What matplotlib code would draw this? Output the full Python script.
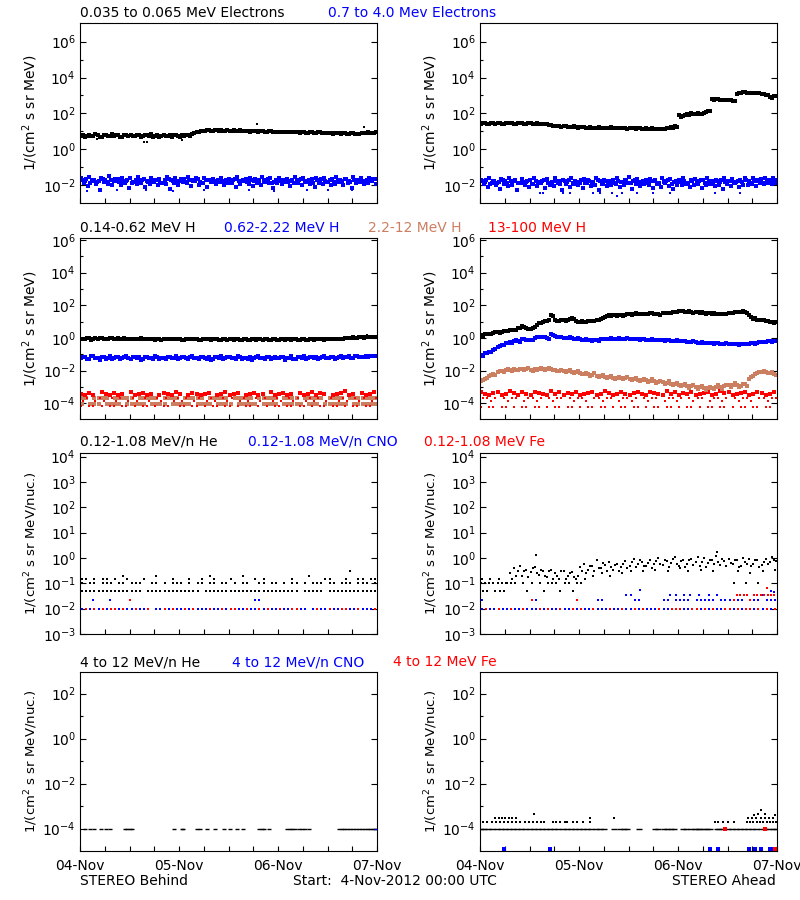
import numpy as np
import matplotlib
matplotlib.use("Agg")
import matplotlib.pyplot as plt
from matplotlib.ticker import FixedLocator, FuncFormatter, NullFormatter

n = np.nan
BLACK, BLUE, BROWN, RED = '#000000', '#0000ff', '#cc7f60', '#ff0000'

# ---------------- x axis (hours since 04-Nov-2012 00:00) ----------------
day_ticks = [0, 24, 48, 72]
day_labels = ['04-Nov', '05-Nov', '06-Nov', '07-Nov']
six_hour_ticks = [6, 12, 18, 30, 36, 42, 54, 60, 66]

# ---------------- Row 1 : electrons (hourly samples) ----------------
beh_e_lo_a = [5.8, 5.0, 6.4, 5.5, 6.1, 4.9, 6.6, 5.7, 5.3, 6.2, 5.1, 6.5,
              5.9, 5.2, 6.3, 5.4, 6.0, 6.7, 5.6, 4.8, 6.2, 5.5, 5.0, 6.1,
              5.0, 5.7, 6.5, 7.3, 8.6, 9.8, 10.8, 11.6, 10.2, 11.2, 11.9, 10.5,
              10.0, 11.3, 10.4, 11.0, 10.1, 9.7, 10.6, 9.5, 10.2, 9.3, 9.9, 9.0,
              9.6, 8.8, 9.4, 8.6, 9.2, 8.3, 9.0, 8.1, 8.8, 7.9, 8.6, 7.8,
              8.4, 7.5, 8.2, 7.3, 8.0, 7.1, 7.8, 6.9, 7.6, 7.9, 8.4, 8.1]
beh_e_lo_b = [6.5, 5.6, 5.2, 6.8, 5.0, 6.0, 5.4, 6.9, 6.1, 4.7, 6.3, 5.6,
              5.3, 6.6, 4.9, 6.2, 5.5, 5.1, 6.4, 5.8, 5.2, 6.5, 5.9, 5.3,
              6.0, 6.3, 5.8, 7.8, 9.2, 10.3, 11.4, 10.6, 11.8, 10.7, 10.9, 11.5,
              10.8, 10.3, 11.2, 9.9, 10.7, 10.3, 9.8, 10.5, 9.6, 10.0, 9.4, 9.7,
              9.1, 9.5, 8.9, 9.3, 8.7, 9.1, 8.5, 8.9, 8.3, 8.6, 8.1, 8.4,
              7.9, 8.3, 7.7, 8.1, 7.4, 7.8, 7.2, 7.5, 8.2, 8.6, 7.8, 8.8]
beh_e_lo_out_h = [4.2, 15.4, 16.2, 24.7, 42.9, 68.8]
beh_e_lo_out_v = [3.5, 2.5, 2.4, 3.3, 24.0, 17.0]

beh_e_hi_a_log = [-1.62, -1.78, -1.55, -1.70, -1.84, -1.60, -1.72, -1.52, -1.80, -1.66, -1.58, -1.75,
                  -1.63, -1.82, -1.54, -1.69, -1.77, -1.59, -1.71, -1.65, -1.86, -1.57, -1.73, -1.61,
                  -1.79, -1.68, -1.55, -1.74, -1.62, -1.81, -1.58, -1.70, -1.66, -1.76, -1.60, -1.83,
                  -1.64, -1.72, -1.56, -1.78, -1.67, -1.61, -1.80, -1.69, -1.57, -1.74, -1.63, -1.85,
                  -1.59, -1.71, -1.66, -1.77, -1.54, -1.70, -1.62, -1.79, -1.65, -1.58, -1.75, -1.60,
                  -1.82, -1.67, -1.53, -1.73, -1.64, -1.78, -1.57, -1.69, -1.61, -1.76, -1.58, -1.66]
beh_e_hi_b_log = [-1.88, -2.05, -1.80, -1.95, -2.25, -1.85, -1.92, -2.02, -1.78, -1.98, -1.90, -2.15,
                  -1.83, -1.96, -1.87, -2.08, -1.93, -1.81, -2.00, -1.89, -1.94, -2.20, -1.86, -1.99,
                  -1.84, -1.91, -2.03, -1.79, -1.97, -1.88, -2.10, -1.85, -1.93, -1.82, -2.01, -1.90,
                  -1.87, -2.12, -1.95, -1.80, -1.92, -2.06, -1.86, -1.98, -1.83, -1.91, -2.18, -1.89,
                  -1.96, -1.84, -2.04, -1.90, -1.87, -1.99, -1.81, -1.94, -2.09, -1.88, -1.93, -1.85,
                  -2.00, -1.92, -1.83, -1.97, -1.86, -2.14, -1.90, -1.82, -1.95, -1.87, -1.80, -1.93]
beh_e_hi_c_log = [-1.74, -1.66, -1.88, -1.71, -1.79, -1.68, -1.85, -1.73, -1.64, -1.81, -1.76, -1.69,
                  -1.90, -1.72, -1.78, -1.67, -1.83, -1.75, -1.70, -1.86, -1.73, -1.65, -1.80, -1.77,
                  -1.68, -1.84, -1.72, -1.79, -1.66, -1.87, -1.74, -1.70, -1.82, -1.69, -1.77, -1.73,
                  -1.85, -1.67, -1.76, -1.71, -1.83, -1.74, -1.68, -1.80, -1.75, -1.66, -1.88, -1.72,
                  -1.78, -1.69, -1.84, -1.73, -1.76, -1.67, -1.81, -1.70, -1.86, -1.74, -1.68, -1.79,
                  -1.72, -1.85, -1.70, -1.77, -1.66, -1.82, -1.73, -1.69, -1.80, -1.71, -1.75, -1.68]
beh_e_hi_out_h = [1.8, 9.0, 16.0, 22.5, 30.0, 41.0, 47.0, 55.0, 60.0, 66.0]
beh_e_hi_out_log = [-2.35, -2.30, -2.28, -2.32, -2.30, -2.27, -2.33, -2.30, -2.25, -2.30]

ahd_e_lo_a = [26, 28, 27, 29, 28, 27, 29, 28, 27, 28, 29, 27,
              28, 26, 27, 25, 24, 22, 20, 19, 18.5, 18, 17.5, 17,
              16.5, 16.5, 16, 15.5, 15.8, 15.2, 16, 15.5, 15.5, 15.8, 15, 15.5,
              14.8, 15.2, 14.5, 14.2, 14.6, 13.8, 14, 13.2, 14.2, 15, 17, 20,
              85, 70, 90, 100, 95, 92, 110, 140, 600, 610, 590, 560,
              540, 510, 1250, 1450, 1480, 1420, 1380, 1300, 1200, 1050, 800, 900]
ahd_e_lo_b = [28, 26, 29, 27, 30, 26, 28, 30, 26, 29, 27, 28,
              26, 28, 25, 26, 23, 21, 20.5, 18, 19.5, 17, 18.5, 16,
              17.5, 15.5, 16.8, 14.8, 16.5, 14.5, 15.2, 16.3, 14.6, 15, 16, 14.2,
              15.6, 14.2, 15.3, 13.5, 13.9, 14.6, 13.2, 14.3, 13.6, 14.5, 16, 18,
              65, 80, 78, 88, 105, 98, 118, 130, 590, 630, 575, 545,
              525, 495, 1350, 1500, 1430, 1450, 1350, 1320, 1150, 1000, 760, 950]

ahd_e_hi_a_log = [-1.70, -1.85, -1.62, -1.78, -1.90, -1.66, -1.80, -1.58, -1.75, -1.88, -1.64, -1.82,
                  -1.72, -1.60, -1.86, -1.76, -1.68, -1.92, -1.63, -1.79, -1.71, -1.84, -1.59, -1.77,
                  -1.87, -1.65, -1.73, -1.81, -1.61, -1.78, -1.69, -1.89, -1.74, -1.62, -1.83, -1.70,
                  -1.57, -1.80, -1.67, -1.85, -1.72, -1.64, -1.79, -1.88, -1.60, -1.76, -1.68, -1.82,
                  -1.73, -1.58, -1.86, -1.71, -1.65, -1.80, -1.74, -1.62, -1.77, -1.69, -1.84, -1.60,
                  -1.75, -1.66, -1.81, -1.70, -1.63, -1.78, -1.59, -1.73, -1.67, -1.62, -1.70, -1.58]
ahd_e_hi_b_log = [-1.95, -2.10, -1.88, -2.02, -2.22, -1.92, -2.05, -1.97, -2.30, -1.90, -2.00, -2.12,
                  -1.94, -2.06, -1.89, -2.18, -1.98, -2.03, -1.91, -2.25, -1.96, -2.08, -1.93, -2.01,
                  -2.15, -1.90, -2.04, -1.97, -2.28, -1.92, -2.07, -1.99, -1.94, -2.11, -2.02, -1.91,
                  -2.20, -1.96, -2.05, -1.93, -2.00, -2.14, -1.95, -2.08, -1.90, -2.03, -2.24, -1.97,
                  -2.01, -1.92, -2.09, -1.98, -1.94, -2.16, -2.02, -1.93, -2.06, -1.99, -2.22, -1.95,
                  -2.04, -1.91, -2.10, -1.97, -2.00, -1.93, -2.07, -1.90, -1.96, -1.88, -1.94, -1.90]
ahd_e_hi_c_log = [-1.80, -1.72, -1.93, -1.77, -1.85, -1.74, -1.90, -1.79, -1.70, -1.87, -1.82, -1.75,
                  -1.95, -1.78, -1.84, -1.73, -1.89, -1.81, -1.76, -1.92, -1.79, -1.71, -1.86, -1.83,
                  -1.74, -1.90, -1.78, -1.85, -1.72, -1.93, -1.80, -1.76, -1.88, -1.75, -1.83, -1.79,
                  -1.91, -1.73, -1.82, -1.77, -1.89, -1.80, -1.74, -1.86, -1.81, -1.72, -1.94, -1.78,
                  -1.84, -1.75, -1.90, -1.79, -1.82, -1.73, -1.87, -1.76, -1.92, -1.80, -1.74, -1.85,
                  -1.78, -1.91, -1.76, -1.83, -1.72, -1.88, -1.79, -1.75, -1.86, -1.77, -1.81, -1.74]
ahd_e_hi_out_h = [14.5, 15.3, 20.0, 21.8, 27.5, 29.0, 32.0, 33.2, 34.5, 38.0, 42.0, 46.0, 57.0, 63.0]
ahd_e_hi_out_log = [-2.47, -2.47, -2.47, -2.42, -2.47, -2.42, -2.47, -2.60, -2.47, -2.47, -2.42, -2.47, -2.42, -2.42]

# ---------------- Row 2 : protons ----------------
beh_p1_a = [0.92, 0.85, 0.95, 0.88, 0.90, 0.97, 0.86, 0.93, 0.89, 0.96, 0.87, 0.91,
            0.84, 0.90, 0.86, 0.82, 0.88, 0.85, 0.80, 0.87, 0.83, 0.89, 0.81, 0.86,
            0.84, 0.79, 0.85, 0.82, 0.88, 0.80, 0.84, 0.86, 0.81, 0.83, 0.78, 0.85,
            0.82, 0.80, 0.86, 0.79, 0.83, 0.77, 0.81, 0.84, 0.78, 0.82, 0.80, 0.85,
            0.79, 0.83, 0.81, 0.78, 0.84, 0.80, 0.82, 0.79, 0.83, 0.81, 0.85, 0.80,
            0.86, 0.83, 0.88, 0.92, 0.96, 1.02, 1.08, 1.05, 1.12, 1.10, 1.15, 1.18]
beh_p1_b = [0.82, 0.95, 0.80, 0.93, 0.97, 0.84, 0.92, 0.99, 0.85, 0.90, 0.94, 0.83,
            0.92, 0.87, 0.93, 0.89, 0.81, 0.92, 0.86, 0.78, 0.90, 0.82, 0.87, 0.83,
            0.79, 0.88, 0.81, 0.86, 0.78, 0.85, 0.89, 0.79, 0.84, 0.80, 0.86, 0.78,
            0.84, 0.87, 0.79, 0.85, 0.80, 0.83, 0.78, 0.82, 0.86, 0.79, 0.84, 0.80,
            0.83, 0.78, 0.85, 0.82, 0.79, 0.84, 0.80, 0.85, 0.78, 0.83, 0.81, 0.87,
            0.82, 0.85, 0.90, 0.88, 0.98, 0.95, 1.05, 1.12, 1.06, 1.20, 1.14, 1.12]
beh_p1_out_h = [69.5]
beh_p1_out_v = [1.5]

beh_p2_a_log = [-1.25, -1.15, -1.30, -1.12, -1.22, -1.18, -1.28, -1.10, -1.24, -1.16, -1.21, -1.13,
                -1.27, -1.19, -1.14, -1.26, -1.17, -1.23, -1.11, -1.29, -1.20, -1.15, -1.25, -1.13,
                -1.22, -1.18, -1.30, -1.12, -1.24, -1.16, -1.21, -1.14, -1.27, -1.19, -1.11, -1.25,
                -1.17, -1.23, -1.13, -1.28, -1.20, -1.15, -1.24, -1.12, -1.22, -1.18, -1.29, -1.14,
                -1.23, -1.16, -1.20, -1.13, -1.26, -1.17, -1.11, -1.24, -1.19, -1.14, -1.22, -1.10,
                -1.25, -1.16, -1.20, -1.12, -1.18, -1.09, -1.21, -1.11, -1.15, -1.08, -1.13, -1.10]
beh_p2_b_log = [-1.18, -1.27, -1.13, -1.24, -1.33, -1.15, -1.21, -1.26, -1.14, -1.30, -1.19, -1.25,
                -1.16, -1.23, -1.35, -1.17, -1.22, -1.28, -1.15, -1.24, -1.31, -1.18, -1.21, -1.27,
                -1.14, -1.25, -1.19, -1.23, -1.29, -1.16, -1.26, -1.34, -1.18, -1.22, -1.27, -1.15,
                -1.24, -1.30, -1.19, -1.21, -1.26, -1.32, -1.17, -1.23, -1.28, -1.16, -1.21, -1.25,
                -1.19, -1.33, -1.22, -1.27, -1.15, -1.24, -1.29, -1.18, -1.23, -1.26, -1.16, -1.22,
                -1.19, -1.27, -1.14, -1.21, -1.17, -1.24, -1.12, -1.19, -1.14, -1.16, -1.11, -1.13]

beh_p3_a_log = [-3.69, -3.69, n, -3.69, -3.69, -3.69, -3.69, n, -3.69, -3.69,
                -3.69, -3.69, -3.69, n, -3.69, -3.69, -3.69, -3.69, -3.69, n,
                -3.69, -3.69, -3.69, -3.69, n, -3.69, -3.69, -3.69, -3.69, -3.69,
                n, -3.69, -3.69, -3.69, -3.69, -3.69, n, -3.69, -3.69, -3.69,
                -3.69, -3.69, n, -3.69, -3.69, -3.69, -3.69, -3.69, n, -3.69,
                -3.69, -3.69, -3.69, n, -3.69, -3.69, -3.69, -3.69, -3.69, n,
                -3.69, -3.69, -3.69, -3.69, n, -3.69, -3.69, -3.69, -3.69, -3.69,
                -3.69, -3.69]
beh_p3_b_log = [-4.02, n, -4.02, -4.02, -4.02, n, -4.02, -4.02, -4.02, -4.02,
                n, -4.02, -4.02, -4.02, -4.02, -4.02, n, -4.02, -4.02, -4.02,
                -4.02, n, -4.02, -4.02, -4.02, -4.02, -4.02, n, -4.02, -4.02,
                -4.02, -4.02, n, -4.02, -4.02, -4.02, -4.02, n, -4.02, -4.02,
                -4.02, -4.02, -4.02, n, -4.02, -4.02, -4.02, -4.02, n, -4.02,
                -4.02, -4.02, -4.02, -4.02, n, -4.02, -4.02, -4.02, n, -4.02,
                -4.02, -4.02, -4.02, -4.02, -4.02, n, -4.02, -4.02, -4.02, -4.02,
                -4.02, -4.02]

beh_p4_a_log = [-3.40, -3.49, -3.38, -3.49, n, -3.30, -3.40, -3.49, -3.38, -3.49,
                -3.40, n, -3.30, -3.49, -3.40, -3.38, -3.49, -3.40, n, -3.49,
                -3.38, -3.40, -3.49, -3.30, -3.40, n, -3.49, -3.38, -3.40, -3.49,
                -3.40, -3.38, n, -3.49, -3.40, -3.30, -3.49, -3.40, -3.38, n,
                -3.49, -3.40, -3.38, -3.49, -3.40, n, -3.30, -3.49, -3.40, -3.38,
                -3.49, -3.40, n, -3.38, -3.49, -3.40, -3.30, -3.49, -3.38, -3.40,
                n, -3.49, -3.40, -3.38, -3.25, -3.49, -3.40, n, -3.38, -3.49,
                -3.40, -3.30]
beh_p4_b_log = [-3.86, -3.69, n, -3.86, -3.69, -3.86, n, -3.69, -3.86, -3.69,
                n, -3.86, -3.69, -3.86, n, -3.69, -3.86, n, -3.69, -3.86,
                -3.69, n, -3.86, -3.69, -3.86, -3.69, n, -3.86, -3.69, n,
                -3.86, -3.69, -3.86, n, -3.69, -3.86, -3.69, n, -3.86, -3.69,
                -3.86, n, -3.69, -3.86, -3.69, n, -3.86, -3.69, -3.86, n,
                -3.69, -3.86, -3.69, n, -3.86, -3.69, -3.86, -3.69, n, -3.86,
                -3.69, n, -3.86, -3.69, -3.86, n, -3.69, -3.86, -3.69, n,
                -3.86, -3.69]
beh_p4_c_log = [-4.14, n, -4.14, -4.14, n, -4.14, n, -4.14, -4.14, n,
                -4.14, -4.14, n, -4.14, n, -4.14, -4.14, n, -4.14, n,
                -4.14, -4.14, n, n, -4.14, -4.14, n, -4.14, -4.14, n,
                -4.14, n, -4.14, -4.14, n, -4.14, -4.14, n, -4.14, n,
                -4.14, -4.14, n, -4.14, n, -4.14, n, -4.14, -4.14, n,
                -4.14, -4.14, n, -4.14, -4.14, n, -4.14, n, -4.14, -4.14,
                n, -4.14, -4.14, n, -4.14, n, -4.14, -4.14, n, -4.14,
                -4.14, n]

ahd_p1_a = [1.6, 1.7, 1.8, 2.0, 2.2, 2.4, 2.6, 2.9, 3.3, 3.9, 5.5, 4.2,
            3.6, 5.0, 8.5, 9.5, 11, 26, 12, 11.5, 12, 13, 17, 11,
            9.5, 10, 10.5, 11, 12, 15, 19, 24, 25, 23, 25, 27,
            29, 31, 30, 28, 30, 32, 29, 28, 33, 35, 36, 37,
            42, 45, 40, 38, 39, 35, 33, 34, 31, 30, 29, 31,
            32, 35, 38, 40, 38, 25, 15, 13, 12, 11, 10, 8.5]
ahd_p1_b = [1.4, 1.8, 1.7, 2.2, 2.0, 2.6, 2.5, 3.1, 3.0, 4.3, 4.8, 3.8,
            4.0, 6.2, 7.8, 10.5, 12, 22, 11, 12.5, 11, 14.5, 15, 10,
            10.5, 9.2, 11.5, 10.2, 13, 16.5, 21, 22, 27, 25, 23, 28,
            27, 33, 28, 30, 28, 34, 31, 27, 35, 33, 38, 40,
            44, 41, 43, 36, 41, 37, 31, 36, 33, 28, 31, 29,
            34, 37, 40, 42, 36, 20, 16, 12.5, 12.8, 10.5, 9.5, 9.0]

ahd_p2_a_log = [-1.02, -0.95, -0.85, -0.75, -0.55, -0.42, -0.33, -0.25, -0.20, -0.18, -0.05, -0.10,
                -0.15, 0.02, 0.08, 0.05, 0.00, 0.22, 0.12, 0.05, 0.02, 0.00, -0.03, -0.05,
                -0.08, -0.10, -0.12, -0.18, -0.15, -0.08, -0.06, -0.05, -0.04, -0.04, -0.05, -0.06,
                -0.06, -0.07, -0.08, -0.08, -0.10, -0.10, -0.11, -0.12, -0.13, -0.15, -0.16, -0.17,
                -0.18, -0.20, -0.22, -0.24, -0.26, -0.28, -0.30, -0.31, -0.32, -0.33, -0.34, -0.35,
                -0.36, -0.37, -0.37, -0.38, -0.37, -0.36, -0.32, -0.28, -0.25, -0.22, -0.20, -0.20]
ahd_p2_b_log = [-1.08, -0.90, -0.88, -0.68, -0.50, -0.45, -0.28, -0.28, -0.15, -0.22, -0.08, -0.14,
                -0.10, 0.05, 0.03, 0.09, -0.04, 0.16, 0.08, 0.08, -0.02, 0.03, -0.07, -0.02,
                -0.12, -0.06, -0.15, -0.14, -0.19, -0.05, -0.09, -0.02, -0.07, -0.01, -0.08, -0.03,
                -0.09, -0.04, -0.11, -0.06, -0.13, -0.08, -0.14, -0.10, -0.16, -0.12, -0.19, -0.14,
                -0.21, -0.17, -0.25, -0.21, -0.29, -0.25, -0.33, -0.28, -0.35, -0.30, -0.37, -0.32,
                -0.39, -0.34, -0.40, -0.35, -0.39, -0.33, -0.35, -0.26, -0.27, -0.20, -0.22, -0.18]

ahd_p3_a_log = [-2.65, -2.50, -2.35, -2.20, -2.10, -2.00, -1.98, -1.95, -1.92, -1.95, -1.90, -1.92,
                -1.95, -1.90, -1.88, -1.90, -1.92, -1.88, -1.95, -2.00, -2.02, -2.05, -2.08, -2.10,
                -2.15, -2.20, -2.22, -2.25, -2.30, -2.35, -2.38, -2.40, -2.42, -2.45, -2.45, -2.48,
                -2.50, -2.52, -2.55, -2.58, -2.60, -2.62, -2.65, -2.70, -2.72, -2.75, -2.80, -2.82,
                -2.85, -2.90, -2.92, -2.95, -3.00, -3.02, -3.05, -3.08, -3.05, -3.00, -2.98, -2.95,
                -2.90, -2.85, -2.88, -2.92, -2.80, -2.50, -2.30, -2.15, -2.08, -2.10, -2.15, -2.20]
ahd_p3_b_log = [-2.58, -2.42, -2.28, -2.25, -2.02, -2.06, -1.92, -2.02, -1.98, -1.88, -1.97, -1.86,
                -2.02, -1.95, -1.82, -1.97, -1.86, -1.94, -2.03, -1.94, -2.09, -1.99, -2.15, -2.04,
                -2.22, -2.13, -2.30, -2.17, -2.38, -2.27, -2.46, -2.33, -2.50, -2.38, -2.53, -2.40,
                -2.58, -2.45, -2.63, -2.50, -2.70, -2.54, -2.75, -2.62, -2.82, -2.66, -2.90, -2.74,
                -2.95, -2.80, -3.05, -2.85, -3.12, -2.92, -3.18, -2.98, -3.15, -2.90, -3.10, -2.85,
                -3.02, -2.78, -2.98, -2.82, -2.95, -2.40, -2.22, -2.10, -2.02, -2.16, -2.08, -2.25]

ahd_p4_a_log = [-3.30, -3.40, -3.49, -3.38, -3.30, -3.49, -3.40, -3.25, -3.38, -3.49,
                -3.30, -3.40, -3.49, -3.30, -3.38, -3.40, -3.49, -3.25, -3.40, -3.30,
                -3.49, -3.38, -3.40, -3.30, -3.49, -3.40, -3.38, -3.30, -3.49, -3.40,
                -3.25, -3.38, -3.49, -3.40, -3.30, -3.40, -3.49, -3.38, -3.30, -3.40,
                -3.49, -3.30, -3.38, -3.40, -3.49, -3.25, -3.40, -3.30, -3.49, -3.38,
                -3.40, -3.30, -3.49, -3.40, -3.38, -3.30, -3.49, -3.40, -3.25, -3.38,
                -3.30, -3.49, -3.40, -3.38, -3.30, -3.49, -3.40, -3.30, -3.38, -3.49,
                -3.40, -3.30]
ahd_p4_b_log = [-3.69, -3.69, -3.86, -3.69, n, -3.69, -3.86, -3.69, -3.69, n,
                -3.86, -3.69, -3.69, -3.86, -3.69, n, -3.69, -3.86, -3.69, -3.69,
                n, -3.69, -3.86, -3.69, -3.69, -3.86, n, -3.69, -3.69, -3.86,
                -3.69, -3.69, n, -3.86, -3.69, -3.69, -3.86, -3.69, n, -3.69,
                -3.86, -3.69, -3.69, n, -3.86, -3.69, -3.69, -3.86, -3.69, n,
                -3.69, -3.86, -3.69, -3.69, n, -3.86, -3.69, -3.69, -3.86, -3.69,
                n, -3.69, -3.86, -3.69, -3.69, -3.86, n, -3.69, -3.69, -3.86,
                -3.69, -3.69]
ahd_p4_c_log = [-4.20, n, -4.20, -4.20, n, -4.20, -4.20, n, -4.20, n,
                -4.20, -4.20, n, -4.20, -4.20, n, -4.20, n, -4.20, -4.20,
                n, -4.20, -4.20, n, -4.20, n, -4.20, -4.20, n, -4.20,
                -4.20, n, -4.20, n, -4.20, -4.20, n, -4.20, -4.20, n,
                -4.20, n, -4.20, -4.20, n, -4.20, -4.20, n, -4.20, n,
                -4.20, -4.20, n, -4.20, n, -4.20, -4.20, n, -4.20, -4.20,
                n, -4.20, n, -4.20, -4.20, n, -4.20, -4.20, n, -4.20,
                -4.20, n]

# ---------------- Row 3 : 0.12-1.08 MeV/n heavy ions ----------------
beh_he_lo = [0.05, 0.05, 0.05, 0.05, 0.05, 0.05, 0.05, 0.05, 0.05, 0.05,
             0.05, 0.05, 0.05, 0.05, 0.05, n, 0.05, 0.05, 0.05, 0.05,
             0.05, 0.05, 0.05, 0.05, 0.05, 0.05, 0.05, 0.05, 0.05, n,
             0.05, 0.05, 0.05, 0.05, 0.05, 0.05, 0.05, 0.05, 0.05, 0.05,
             0.05, 0.05, 0.05, 0.05, 0.05, 0.05, 0.05, 0.05, 0.05, 0.05,
             0.05, 0.05, 0.05, n, 0.05, 0.05, 0.05, 0.05, 0.05, n,
             0.05, 0.05, 0.05, 0.05, 0.05, 0.05, 0.05, 0.05, 0.05, 0.05,
             0.05, 0.05]
beh_he_mid = [0.1, n, 0.1, 0.1, n, 0.1, 0.1, 0.1, n, 0.1,
              0.1, n, 0.1, 0.1, 0.1, n, n, 0.1, 0.1, n,
              0.1, n, 0.1, 0.1, 0.1, n, 0.1, n, 0.1, 0.1,
              n, 0.1, 0.1, n, 0.1, 0.1, n, 0.1, n, 0.1,
              0.1, n, n, 0.1, 0.1, n, 0.1, 0.1, n, 0.1,
              n, 0.1, 0.1, n, 0.1, n, 0.1, 0.1, 0.1, n,
              0.1, 0.1, n, 0.1, 0.1, 0.1, n, 0.1, 0.1, 0.1,
              n, 0.1]
beh_he_hi = [0.15, 0.15, n, 0.15, n, 0.15, 0.15, n, 0.15, n,
             0.2, 0.15, n, n, n, 0.15, n, n, 0.2, n,
             n, n, 0.15, n, n, n, 0.15, n, n, 0.15,
             n, 0.2, 0.15, n, n, n, 0.15, n, n, 0.2,
             n, n, 0.15, n, 0.15, n, n, n, n, n,
             n, 0.15, n, n, n, 0.2, n, n, n, 0.15,
             0.15, n, n, n, 0.15, 0.3, n, 0.15, 0.15, n,
             0.15, 0.15]
beh_cno_lo = [0.01, 0.01, 0.01, n, 0.01, n, 0.01, 0.01, n, 0.01,
              n, 0.01, 0.01, n, 0.01, 0.01, n, n, 0.01, 0.01,
              n, 0.01, n, 0.01, 0.01, n, 0.01, n, 0.01, 0.01,
              0.01, n, 0.01, 0.01, n, 0.01, n, n, 0.01, 0.01,
              n, 0.01, 0.01, n, 0.01, n, 0.01, 0.01, n, 0.01,
              0.01, n, n, 0.01, 0.01, n, 0.01, n, 0.01, 0.01,
              n, 0.01, 0.01, n, n, 0.01, 0.01, n, 0.01, 0.01,
              0.01, 0.01]
beh_fe_lo = [n, 0.01, n, 0.01, n, 0.01, n, 0.01, 0.01, n,
             0.01, n, n, 0.01, n, n, 0.01, n, n, n,
             0.01, n, 0.01, n, n, 0.01, n, 0.01, n, n,
             n, 0.01, n, n, 0.01, n, 0.01, 0.01, n, n,
             0.01, n, n, 0.01, n, 0.01, n, n, 0.01, n,
             n, 0.01, 0.01, n, n, n, n, 0.01, n, n,
             0.01, n, n, 0.01, 0.01, n, n, 0.01, n, n,
             n, 0.01]
beh_cno_extra_h = [3.2, 7.3, 42.4, 43.3]
beh_cno_extra_v = [0.021, 0.021, 0.021, 0.021]
beh_fe_extra_h = [12.1]
beh_fe_extra_v = [0.021]

ahd_he_a = [0.1, 0.1, 0.1, 0.1, 0.1, 0.1, 0.1, 0.25, 0.4, 0.3, 0.2, 0.35,
            0.28, 0.45, 0.22, 0.3, 0.18, 0.35, 0.25, 0.15, 0.3, 0.2, 0.28, 0.15,
            0.45, 0.6, 0.35, 0.5, 0.8, 0.4, 0.55, 0.7, 0.35, 0.6, 0.45, 0.75,
            0.5, 0.9, 0.6, 0.7, 0.5, 0.85, 0.6, 1.0, 0.55, 0.75, 0.65, 1.1,
            0.5, 0.8, 0.6, 0.9, 0.7, 0.5, 1.0, 0.65, 0.8, 1.2, 0.55, 0.75,
            0.9, 0.6, 0.85, 0.5, 0.7, 0.95, 0.6, 0.8, 0.55, 0.9, 0.7, 0.85]
ahd_he_b = [0.05, 0.05, n, 0.05, 0.05, 0.05, n, 0.15, 0.2, 0.5, 0.3, 0.18,
            0.4, 0.25, 0.35, 0.2, 0.3, 0.15, 0.2, 0.3, 0.15, 0.25, 0.18, 0.2,
            0.3, 0.25, 0.5, 0.3, 0.4, 0.65, 0.3, 0.45, 0.55, 0.3, 0.6, 0.4,
            0.7, 0.45, 0.8, 0.5, 0.65, 0.4, 0.75, 0.6, 0.85, 0.45, 0.95, 0.6,
            0.75, 0.45, 0.85, 0.55, 1.1, 0.7, 0.45, 0.8, 0.6, 0.7, 0.95, 0.5,
            0.65, 0.8, 0.45, 1.0, 0.6, 0.5, 0.8, 0.45, 0.7, 0.6, 1.05, 0.75]
ahd_he_c = [0.15, n, 0.15, n, 0.15, n, 0.1, 0.1, 0.1, n, 0.1, 0.05,
            0.1, 1.3, 0.1, 0.05, 0.1, 0.1, 0.1, 0.05, 0.1, 0.1, 0.05, 0.1,
            0.1, 0.15, n, 0.2, n, 0.25, n, 0.2, n, n, 0.25, n,
            0.3, n, n, 0.3, n, n, 0.35, n, n, 0.3, n, n,
            0.4, n, 0.3, n, n, 0.35, n, n, 0.3, 1.7, n, n,
            n, 0.1, 0.3, n, 0.1, 0.25, n, 0.1, 0.3, n, n, 0.35]
ahd_cno_lo = [0.01, n, 0.01, 0.01, n, 0.01, 0.01, n, 0.01, 0.01, n, 0.01,
              0.01, 0.01, n, 0.01, n, 0.01, 0.01, n, 0.01, 0.01, n, 0.01,
              n, 0.01, 0.01, n, 0.01, 0.01, 0.01, n, 0.01, 0.01, n, 0.01,
              0.01, n, 0.01, n, 0.01, 0.01, 0.01, n, 0.01, 0.01, n, 0.01,
              n, 0.01, 0.01, n, n, 0.01, n, 0.01, n, 0.01, 0.01, n,
              n, 0.01, n, 0.01, n, n, 0.01, n, 0.01, n, 0.01, n]
ahd_cno_mid = [0.021, n, n, n, n, n, n, n, n, n, n, n,
               n, 0.021, n, n, n, n, n, n, n, n, n, n,
               n, n, n, n, 0.021, 0.021, n, n, n, n, n, n,
               n, 0.021, 0.021, n, n, n, n, n, 0.021, 0.021, n, 0.021,
               0.021, 0.021, 0.021, n, 0.021, 0.021, 0.021, 0.021, 0.021, n, 0.021, 0.021,
               0.021, 0.021, 0.021, 0.021, n, 0.021, 0.021, 0.021, n, 0.021, 0.021, 0.021]
ahd_cno_extra_h = [35.5, 36.5, 38.8, 46.0, 47.5, 49.5, 51.0, 53.0, 55.5, 57.5, 63.9, 68.7, 70.5, 71.3]
ahd_cno_extra_v = [0.034, 0.034, 0.055, 0.034, 0.034, 0.034, 0.034, 0.034, 0.034, 0.034, 0.034, 0.034, 0.05, 0.045]
ahd_fe_lo = [n, 0.01, n, n, 0.01, n, n, 0.01, n, n, 0.01, n,
             n, n, 0.01, n, 0.01, n, n, 0.01, n, n, 0.01, n,
             0.01, n, n, 0.01, n, n, n, 0.01, n, n, 0.01, n,
             n, 0.01, n, 0.01, n, n, n, 0.01, n, n, 0.01, 0.01,
             0.01, n, n, 0.01, 0.01, n, 0.01, n, 0.01, n, n, 0.01,
             0.01, n, 0.01, n, 0.01, 0.01, n, 0.01, n, 0.01, n, 0.01]
ahd_fe_extra_h = [12.5, 23.5, 61.5, 62.3, 63.1, 64.0, 64.8, 65.5, 66.4, 67.2, 68.0, 68.9, 69.7, 70.5, 71.3, 69.5]
ahd_fe_extra_v = [0.021, 0.021, 0.021, 0.034, 0.034, 0.034, 0.034, 0.021, 0.034, 0.034, 0.034, 0.034, 0.034, 0.034, 0.034, 0.068]

# ---------------- Row 4 : 4-12 MeV/n heavy ions ----------------
beh_he4_h = [1.2, 2.5, 3.5, 5.0, 6.2, 7.3, 10.9, 11.5, 12.1, 12.5, 22.7, 24.7, 25.0,
             28.3, 29.0, 30.7, 32.8, 34.8, 36.4, 38.0, 39.6, 43.3, 44.0, 44.6, 45.7,
             50.2, 50.8, 51.4, 52.2, 53.0, 53.8, 54.6, 55.4, 62.7, 63.4, 64.1, 64.8,
             65.5, 66.2, 66.9, 67.6, 68.3, 69.0, 69.7, 70.4, 71.1, 71.6]
beh_he4_level = 1e-4
beh_cno4_h = [71.8]
beh_cno4_level = 1e-4

ahd_he4_lo_h = [0.3, 1, 2, 3, 4, 5, 6, 7, 8, 9, 10, 11, 12, 13, 14, 15, 16, 17, 18, 19,
                20, 21, 22, 23, 24, 25, 26, 27, 28, 29, 30, 32.4, 34, 34.8, 35.6, 38.5,
                42.5, 43.1, 44.5, 45.4, 46.2, 47, 49.3, 50, 51.2, 52, 52.8, 53.4, 54.2,
                55, 55.8, 57.4, 58, 59, 60, 61, 62, 63, 64, 65, 66, 67, 68, 69, 70, 71, 71.8]
ahd_he4_lo_level = 1e-4
ahd_he4_mid_h = [0.8, 1.8, 2.8, 3.8, 4.8, 5.8, 6.8, 7.8, 8.8, 9.8, 10.8, 11.8, 12.8, 13.8,
                 14.8, 15.4, 17.8, 18.5, 19.5, 20.5, 21.2, 22.5, 23.5, 25.0, 26.7, 57.0,
                 57.8, 59.0, 60.0, 61.5, 64.7, 65.5, 66.3, 67.1, 67.9, 68.7, 69.5, 70.3,
                 71.1, 71.8]
ahd_he4_mid_level = 2e-4
ahd_he4_hi_h = [3.6, 4.5, 5.3, 6.1, 7.0, 7.8, 8.7, 26.7, 32.4, 65.0, 66.0, 67.0, 68.0, 69.0, 70.0, 71.0]
ahd_he4_hi_level = 3e-4
ahd_he4_top_h = [13.0, 66.5, 67.5, 68.1, 69.0, 71.5]
ahd_he4_top_v = [4.2e-4, 4.0e-4, 4.5e-4, 7.0e-4, 4.5e-4, 4.0e-4]
ahd_cno4_h = [5.8, 17.0, 55.8, 57.8, 65.1, 66.7, 68.0, 70.4, 71.2]
ahd_cno4_level = 1.2e-5
ahd_fe4_h = [59.5, 69.2, 71.6]
ahd_fe4_v = [1e-4, 1e-4, 1.2e-5]

# ---------------- labels ----------------
ylab_flux = r'1/(cm$^2$ s sr MeV)'
ylab_nuc = r'1/(cm$^2$ s sr MeV/nuc.)'
row_titles = [
    [("0.035 to 0.065 MeV Electrons", 80, BLACK), ("0.7 to 4.0 Mev Electrons", 328, BLUE)],
    [("0.14-0.62 MeV H", 80, BLACK), ("0.62-2.22 MeV H", 224, BLUE),
     ("2.2-12 MeV H", 368, BROWN), ("13-100 MeV H", 488, RED)],
    [("0.12-1.08 MeV/n He", 80, BLACK), ("0.12-1.08 MeV/n CNO", 248, BLUE),
     ("0.12-1.08 MeV Fe", 424, RED)],
    [("4 to 12 MeV/n He", 80, BLACK), ("4 to 12 MeV/n CNO", 232, BLUE),
     ("4 to 12 MeV Fe", 393, RED)],
]
title_y = [13, 228, 442, 662]

# ---------------- figure ----------------
plt.rcParams['font.family'] = ['DejaVu Sans']
W, H = 800.0, 900.0
fig = plt.figure(figsize=(8, 9), dpi=100)
COLS = [(80, 377), (480, 777)]
ROWS = [(23, 203), (238, 419), (453, 634), (672, 851)]


def panel(r, c):
    (x0, x1), (y0, y1) = COLS[c], ROWS[r]
    return fig.add_axes([x0 / W, 1 - y1 / H, (x1 - x0) / W, (y1 - y0) / H])


def pow_fmt(v, pos):
    return r'$10^{%d}$' % int(round(np.log10(v)))


def style(ax, ylim, majors, minors, ylabel, bottom, ylab_size=10):
    ax.set_xlim(0, 72)
    ax.set_yscale('log')
    ax.set_ylim(*ylim)
    ax.yaxis.set_major_locator(FixedLocator([10.0 ** e for e in majors]))
    ax.yaxis.set_minor_locator(FixedLocator([10.0 ** e for e in minors]))
    ax.yaxis.set_major_formatter(FuncFormatter(pow_fmt))
    ax.yaxis.set_minor_formatter(NullFormatter())
    ax.xaxis.set_major_locator(FixedLocator(day_ticks))
    ax.xaxis.set_minor_locator(FixedLocator(six_hour_ticks))
    if bottom:
        ax.set_xticklabels(day_labels)
    else:
        ax.set_xticklabels([])
    ax.tick_params(axis='y', which='major', direction='in', length=4.3, width=0.8,
                   left=True, right=True, labelsize=10, pad=3)
    ax.tick_params(axis='y', which='minor', direction='in', length=2.4, width=0.8,
                   left=True, right=False)
    ax.tick_params(axis='x', which='both', direction='in', length=3.6, width=0.8,
                   bottom=True, top=False, labelsize=10, pad=6)
    for s in ax.spines.values():
        s.set_linewidth(0.8)
    ax.set_ylabel(ylabel, fontsize=ylab_size)
    ax.yaxis.set_label_coords(-0.135, 0.5)


def dots(ax, t, v, color, ms=2.6, marker='s', mew=0):
    ax.plot(t, v, ls='none', marker=marker, ms=ms, mew=mew, color=color,
            mec=color, mfc=color)


def hrs(a, off):
    return np.arange(len(a)) + off


def lg(a):
    return 10.0 ** np.asarray(a, dtype=float)


# Row 1
ylim1 = (10 ** -3.0, 10 ** 7.04)
ax = panel(0, 0)
style(ax, ylim1, [-2, 0, 2, 4, 6], [-1, 1, 3, 5], ylab_flux, False)
dots(ax, hrs(beh_e_lo_a, 0.25), beh_e_lo_a, BLACK)
dots(ax, hrs(beh_e_lo_b, 0.75), beh_e_lo_b, BLACK)
dots(ax, beh_e_lo_out_h, beh_e_lo_out_v, BLACK, ms=2)
dots(ax, hrs(beh_e_hi_a_log, 0.15), lg(beh_e_hi_a_log), BLUE, ms=2.5)
dots(ax, hrs(beh_e_hi_c_log, 0.5), lg(beh_e_hi_c_log), BLUE, ms=2.5)
dots(ax, hrs(beh_e_hi_b_log, 0.85), lg(beh_e_hi_b_log), BLUE, ms=2.5)
dots(ax, beh_e_hi_out_h, lg(beh_e_hi_out_log), BLUE, ms=2)

ax = panel(0, 1)
style(ax, ylim1, [-2, 0, 2, 4, 6], [-1, 1, 3, 5], ylab_flux, False)
dots(ax, hrs(ahd_e_lo_a, 0.25), ahd_e_lo_a, BLACK)
dots(ax, hrs(ahd_e_lo_b, 0.75), ahd_e_lo_b, BLACK)
dots(ax, hrs(ahd_e_hi_a_log, 0.15), lg(ahd_e_hi_a_log), BLUE, ms=2.5)
dots(ax, hrs(ahd_e_hi_c_log, 0.5), lg(ahd_e_hi_c_log), BLUE, ms=2.5)
dots(ax, hrs(ahd_e_hi_b_log, 0.85), lg(ahd_e_hi_b_log), BLUE, ms=2.5)
dots(ax, ahd_e_hi_out_h, lg(ahd_e_hi_out_log), BLUE, ms=2)

# Row 2
ylim2 = (10 ** -4.96, 10 ** 6.12)
ax = panel(1, 0)
style(ax, ylim2, [-4, -2, 0, 2, 4, 6], [-3, -1, 1, 3, 5], ylab_flux, False)
dots(ax, hrs(beh_p3_a_log, 0.5), lg(beh_p3_a_log), BROWN, ms=2.2)
dots(ax, hrs(beh_p3_b_log, 0.5), lg(beh_p3_b_log), BROWN, ms=2.2)
dots(ax, hrs(beh_p4_a_log, 0.25), lg(beh_p4_a_log), RED, ms=2.2)
dots(ax, hrs(beh_p4_b_log, 0.75), lg(beh_p4_b_log), RED, ms=2.0)
dots(ax, hrs(beh_p4_c_log, 0.25), lg(beh_p4_c_log), RED, ms=2.0)
dots(ax, hrs(beh_p1_a, 0.25), beh_p1_a, BLACK)
dots(ax, hrs(beh_p1_b, 0.75), beh_p1_b, BLACK)
dots(ax, beh_p1_out_h, beh_p1_out_v, BLACK, ms=2)
dots(ax, hrs(beh_p2_a_log, 0.25), lg(beh_p2_a_log), BLUE, ms=2.4)
dots(ax, hrs(beh_p2_b_log, 0.75), lg(beh_p2_b_log), BLUE, ms=2.4)

ax = panel(1, 1)
style(ax, ylim2, [-4, -2, 0, 2, 4, 6], [-3, -1, 1, 3, 5], ylab_flux, False)
dots(ax, hrs(ahd_p4_a_log, 0.25), lg(ahd_p4_a_log), RED, ms=2.2)
dots(ax, hrs(ahd_p4_b_log, 0.75), lg(ahd_p4_b_log), RED, ms=2.0)
dots(ax, hrs(ahd_p4_c_log, 0.25), lg(ahd_p4_c_log), RED, ms=2.0)
dots(ax, hrs(ahd_p3_a_log, 0.25), lg(ahd_p3_a_log), BROWN, ms=2.4)
dots(ax, hrs(ahd_p3_b_log, 0.75), lg(ahd_p3_b_log), BROWN, ms=2.4)
dots(ax, hrs(ahd_p1_a, 0.25), ahd_p1_a, BLACK)
dots(ax, hrs(ahd_p1_b, 0.75), ahd_p1_b, BLACK)
dots(ax, hrs(ahd_p2_a_log, 0.25), lg(ahd_p2_a_log), BLUE)
dots(ax, hrs(ahd_p2_b_log, 0.75), lg(ahd_p2_b_log), BLUE)

# Row 3
ylim3 = (10 ** -3.0, 10 ** 4.14)
maj3 = [-3, -2, -1, 0, 1, 2, 3, 4]
ax = panel(2, 0)
style(ax, ylim3, maj3, [], ylab_nuc, False, ylab_size=9.5)
dots(ax, hrs(beh_he_lo, 0.5), beh_he_lo, BLACK, ms=2.0)
dots(ax, hrs(beh_he_mid, 0.5), beh_he_mid, BLACK, ms=1.8)
dots(ax, hrs(beh_he_hi, 0.5), beh_he_hi, BLACK, ms=1.8)
dots(ax, hrs(beh_cno_lo, 0.5), beh_cno_lo, BLUE, ms=2.0)
dots(ax, hrs(beh_fe_lo, 0.5), beh_fe_lo, RED, ms=2.0)
dots(ax, beh_cno_extra_h, beh_cno_extra_v, BLUE, ms=1.8)
dots(ax, beh_fe_extra_h, beh_fe_extra_v, RED, ms=1.8)

ax = panel(2, 1)
style(ax, ylim3, maj3, [], ylab_nuc, False, ylab_size=9.5)
dots(ax, hrs(ahd_cno_lo, 0.5), ahd_cno_lo, BLUE, ms=2.0)
dots(ax, hrs(ahd_fe_lo, 0.5), ahd_fe_lo, RED, ms=2.0)
dots(ax, hrs(ahd_cno_mid, 0.5), ahd_cno_mid, BLUE, ms=1.8)
dots(ax, ahd_cno_extra_h, ahd_cno_extra_v, BLUE, ms=1.8)
dots(ax, ahd_fe_extra_h, ahd_fe_extra_v, RED, ms=1.8)
dots(ax, hrs(ahd_he_a, 0.25), ahd_he_a, BLACK, ms=2.0)
dots(ax, hrs(ahd_he_b, 0.75), ahd_he_b, BLACK, ms=2.0)
dots(ax, hrs(ahd_he_c, 0.5), ahd_he_c, BLACK, ms=2.0)

# Row 4
ylim4 = (10 ** -5.0, 10 ** 2.96)
ax = panel(3, 0)
style(ax, ylim4, [-4, -2, 0, 2], [-3, -1, 1], ylab_nuc, True, ylab_size=9.5)
dots(ax, beh_he4_h, np.full(len(beh_he4_h), beh_he4_level), BLACK, ms=3.5, marker='_', mew=1.0)
dots(ax, beh_cno4_h, np.full(len(beh_cno4_h), beh_cno4_level), BLUE, ms=2.5, marker='_', mew=1.0)

ax = panel(3, 1)
style(ax, ylim4, [-4, -2, 0, 2], [-3, -1, 1], ylab_nuc, True, ylab_size=9.5)
dots(ax, ahd_he4_lo_h, np.full(len(ahd_he4_lo_h), ahd_he4_lo_level), BLACK, ms=4.0, marker='_', mew=1.0)
dots(ax, ahd_he4_mid_h, np.full(len(ahd_he4_mid_h), ahd_he4_mid_level), BLACK, ms=2.0)
dots(ax, ahd_he4_hi_h, np.full(len(ahd_he4_hi_h), ahd_he4_hi_level), BLACK, ms=2.0)
dots(ax, ahd_he4_top_h, ahd_he4_top_v, BLACK, ms=2.0)
dots(ax, ahd_cno4_h, np.full(len(ahd_cno4_h), ahd_cno4_level), BLUE, ms=2.2)
dots(ax, ahd_fe4_h, ahd_fe4_v, RED, ms=2.2)

# titles
for y, items in zip(title_y, row_titles):
    for txt, x, col in items:
        fig.text(x / W, 1 - y / H, txt, color=col, fontsize=10, ha='left', va='center')

fig.text(80 / W, 1 - 881 / H, 'STEREO Behind', fontsize=10, ha='left', va='center')
fig.text(293 / W, 1 - 881 / H, 'Start:  4-Nov-2012 00:00 UTC', fontsize=10, ha='left', va='center')
fig.text(776 / W, 1 - 881 / H, 'STEREO Ahead', fontsize=10, ha='right', va='center')

fig.savefig('out.png', dpi=100)
